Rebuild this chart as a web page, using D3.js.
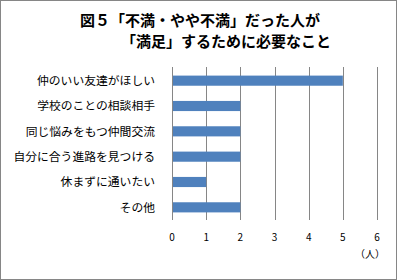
<!DOCTYPE html>
<html><head><meta charset="utf-8">
<script src="https://cdn.jsdelivr.net/npm/d3@7"></script>
<style>body{margin:0;background:#fff}svg{display:block}</style>
</head><body>
<script>
const categories = ["仲のいい友達がほしい","学校のことの相談相手","同じ悩みをもつ仲間交流","自分に合う進路を見つける","休まずに通いたい","その他"];
const values = [5,2,2,2,1,2];
const ticks = [0,1,2,3,4,5,6];
const titleLines = ["図５「不満・やや不満」だった人が","「満足」するために必要なこと"];
const unitLabel = "（人）";

const W=397,H=280;
const svg=d3.select("body").append("svg").attr("width",W).attr("height",H);
const font='"Noto Sans CJK JP","Noto Sans",sans-serif';
svg.append("rect").attr("x",0.5).attr("y",0.5).attr("width",W-1).attr("height",H-1)
  .attr("fill","#fff").attr("stroke","#868686").attr("stroke-width",1);

const x=d3.scaleLinear().domain([0,6]).range([172,377]);
const y=d3.scaleBand().domain(categories).range([68,220]).paddingInner(0.6).paddingOuter(0.3);

const g=svg.append("g");
g.selectAll("line.grid").data(ticks).join("line")
  .attr("x1",d=>Math.round(x(d))+0.5).attr("x2",d=>Math.round(x(d))+0.5)
  .attr("y1",67).attr("y2",220).attr("stroke","#868686").attr("stroke-width",1);

g.selectAll("rect.bar").data(values).join("rect")
  .attr("x",x(0)+1).attr("y",(d,i)=>y(categories[i]))
  .attr("width",d=>x(d)-x(0)-1).attr("height",y.bandwidth())
  .attr("fill","#4F81BD");

g.selectAll("text.cat").data(categories).join("text")
  .attr("x",155).attr("y",d=>y(d)+y.bandwidth()/2).attr("dy","0.36em")
  .attr("text-anchor","end").attr("font-family",font).attr("font-size",11.8).attr("fill","#000")
  .text(d=>d);

g.selectAll("text.tick").data(ticks).join("text")
  .attr("x",d=>x(d)).attr("y",241).attr("text-anchor","middle")
  .attr("font-family",font).attr("font-size",10).attr("fill","#000").text(d=>d);

svg.append("text").attr("x",385).attr("y",258).attr("text-anchor","end")
  .attr("font-family",font).attr("font-size",10).text(unitLabel);

svg.append("text").attr("x",80).attr("y",26).attr("font-family",font).attr("font-weight","bold")
  .attr("font-size",15).text(titleLines[0]);
svg.append("text").attr("x",121).attr("y",47).attr("font-family",font).attr("font-weight","bold")
  .attr("font-size",15).text(titleLines[1]);
</script>
</body></html>
